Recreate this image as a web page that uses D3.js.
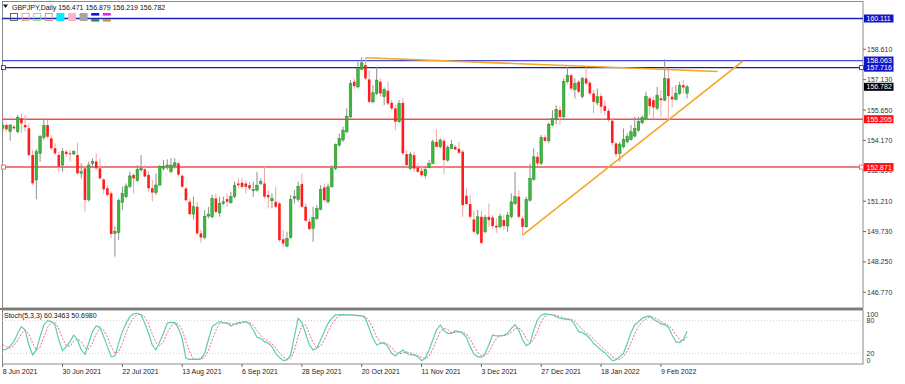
<!DOCTYPE html>
<html>
<head>
<meta charset="utf-8">
<script src="https://cdn.jsdelivr.net/npm/d3@7"></script>
<style>
  body { margin: 0; background: #fff; }
  svg { display: block; font-family: "Liberation Sans", Arial, sans-serif; }
</style>
</head>
<body>
<svg id="chart" width="905" height="384"></svg>
<script>
// GBPJPY daily, one value per trading day starting 8 Jun 2021
const opens = [
  154.76,154.92,154.60,154.84,154.60,155.25,154.92,154.76,153.46,152.24,153.54,154.32,154.92,154.27,153.79,153.46,
  152.97,153.62,153.54,153.51,153.46,152.57,152.81,151.27,153.05,153.14,152.81,152.27,151.84,151.59,149.64,149.68,
  151.14,151.43,151.92,152.49,152.21,152.73,152.76,152.49,151.84,151.63,152.00,152.81,152.89,152.65,152.92,153.05,
  152.45,151.83,151.18,150.58,150.94,149.64,149.44,150.48,150.45,151.34,150.64,151.10,151.31,151.13,151.43,152.07,
  152.11,152.07,151.99,151.72,151.75,152.07,152.07,151.51,151.23,151.18,151.10,149.35,149.02,149.44,151.34,151.29,
  152.04,150.94,150.21,149.88,150.37,150.81,151.88,151.18,151.91,152.80,153.94,154.19,154.59,155.32,157.03,156.78,
  157.63,157.84,157.14,156.05,156.46,157.03,156.30,156.59,156.00,155.73,155.08,156.00,153.50,152.80,153.45,152.85,
  152.69,152.45,152.85,153.05,154.10,153.86,154.15,153.21,153.78,153.86,153.76,153.62,151.48,151.07,150.32,149.64,
  150.45,149.72,150.45,150.42,150.01,149.96,150.29,150.00,150.45,151.10,151.43,150.37,149.96,151.26,152.27,153.37,
  153.05,154.32,154.15,154.92,155.19,155.65,155.32,157.03,157.35,156.65,157.03,156.30,157.19,156.98,156.46,156.00,
  156.33,155.84,155.61,155.13,154.02,153.54,153.86,154.10,154.22,154.38,154.67,155.03,155.24,156.22,156.13,155.73,
  156.22,156.13,157.19,156.30,156.17,156.46,156.86,156.471
];
const highs = [
  155.08,155.00,154.97,154.92,155.41,155.49,155.41,155.00,153.70,153.74,154.43,155.17,155.17,154.43,154.03,153.62,
  153.79,153.70,153.70,153.70,154.06,153.05,152.89,153.14,153.30,153.54,153.30,152.32,152.00,151.67,149.97,151.35,
  151.92,152.08,152.65,152.57,152.97,153.46,152.97,152.65,152.24,152.57,152.97,153.22,153.25,153.30,153.30,153.10,
  152.56,151.91,151.34,151.43,151.18,149.80,150.78,150.94,151.51,151.59,151.43,151.43,151.59,151.67,152.16,152.32,
  152.32,152.24,152.16,152.16,152.64,152.32,152.89,151.75,151.59,151.91,151.18,149.80,149.72,151.51,151.75,152.16,
  152.56,151.10,150.37,150.94,151.02,151.99,152.07,152.07,152.97,154.02,154.51,154.84,155.73,157.11,157.19,158.00,
  158.23,158.20,157.60,156.86,157.76,157.19,156.75,157.03,156.13,155.89,156.13,156.22,153.70,153.62,153.62,153.05,
  152.97,152.89,153.21,154.22,154.70,154.27,154.27,153.94,154.19,153.94,154.10,153.70,151.83,151.51,150.74,150.78,
  150.74,150.53,151.10,150.53,150.37,150.61,150.53,150.69,151.59,152.64,151.75,150.48,151.43,153.05,153.78,153.62,
  154.43,154.43,155.03,155.65,155.89,155.81,157.19,157.76,157.43,157.19,157.11,157.27,157.76,157.08,156.65,156.70,
  156.46,156.13,155.73,155.24,154.10,154.10,154.75,154.51,154.92,155.32,155.32,155.40,156.54,156.30,156.30,156.78,
  156.62,158.12,157.68,156.78,156.86,157.03,157.11,156.879
];
const lows = [
  154.55,154.60,154.16,154.68,154.52,154.52,154.60,153.38,152.00,151.30,153.14,154.19,154.27,153.70,153.46,152.65,
  152.65,153.38,153.14,153.46,152.49,152.32,150.70,151.19,152.81,152.73,152.27,151.59,151.43,149.40,148.51,149.32,
  150.78,151.35,151.84,151.59,152.16,152.65,152.37,151.67,151.19,151.51,151.95,152.70,152.73,152.57,152.80,152.40,
  151.88,151.18,150.53,150.32,149.59,149.18,149.35,150.37,150.37,150.61,150.45,151.02,150.94,151.10,151.34,151.83,
  151.83,151.59,151.75,151.43,151.67,151.99,151.34,150.86,150.86,150.86,149.23,148.99,148.96,149.39,151.10,151.18,
  150.86,150.21,149.80,149.23,150.29,150.78,151.18,151.10,151.88,152.72,153.86,154.10,154.51,155.24,156.70,156.70,
  157.60,157.11,155.97,155.97,156.38,156.30,155.89,155.89,155.65,154.67,155.03,153.45,152.89,152.72,152.64,152.59,
  152.40,152.32,152.80,153.02,153.83,153.78,152.53,153.13,153.73,153.70,153.50,150.45,150.99,150.37,149.64,149.56,
  149.12,149.64,149.96,149.88,149.67,149.88,149.80,149.72,150.37,151.02,150.37,149.56,149.91,151.18,152.20,152.92,
  152.97,154.10,154.05,154.87,154.96,154.92,155.24,156.95,156.62,156.22,156.46,156.22,156.86,156.38,155.48,155.89,
  155.48,155.40,155.08,153.94,153.37,153.13,153.78,154.02,154.15,154.32,154.59,154.96,155.16,155.40,155.24,155.65,
  155.32,156.10,155.16,155.78,156.13,156.38,156.46,156.219
];
const closes = [
  154.92,154.71,154.92,154.76,155.30,155.00,154.81,153.46,152.08,153.62,154.35,154.89,154.35,153.79,153.54,152.89,
  153.62,153.51,153.52,153.62,152.57,152.65,151.27,152.97,153.14,152.81,152.32,151.79,151.51,149.61,149.73,151.24,
  151.59,151.95,152.44,152.32,152.76,152.81,152.41,151.84,151.63,152.00,152.89,152.89,152.97,152.97,153.08,152.50,
  151.91,151.26,150.58,150.94,149.64,149.44,150.48,150.58,151.34,150.69,151.10,151.18,151.18,151.43,151.99,151.99,
  151.91,151.91,151.83,151.78,151.99,152.16,151.43,151.40,151.34,150.94,149.31,149.15,149.39,151.29,151.43,151.94,
  150.94,150.26,149.85,150.42,150.86,151.78,151.26,151.91,152.79,153.97,154.27,154.67,155.35,156.95,156.82,157.68,
  157.95,157.19,156.05,156.49,157.11,156.46,156.65,155.97,155.73,155.08,155.97,153.54,152.97,153.50,152.80,152.64,
  152.48,152.76,153.05,154.10,153.86,154.19,153.21,153.83,153.97,153.73,153.57,151.02,151.07,150.45,149.72,150.45,
  149.18,150.42,150.29,150.00,149.93,150.48,150.00,150.53,151.18,151.43,150.45,149.96,151.29,152.32,153.37,153.05,
  154.32,154.15,154.96,155.24,155.68,155.32,157.03,157.35,156.70,156.95,156.54,157.19,156.95,156.46,156.05,156.30,
  155.81,155.61,155.16,154.05,153.50,153.99,154.22,154.35,154.59,154.75,155.08,155.29,156.30,155.84,155.78,156.38,
  156.13,157.19,156.33,156.17,156.46,156.86,156.75,156.782
];

// Stochastic (5,3,3): %K main line and %D signal line
const stochK = [
  26.2,27.4,33.5,41.5,56.8,69.1,62.9,35.3,17.0,26.2,50.7,72.1,80.1,78.3,72.1,44.5,
  24.9,32.3,41.5,53.7,44.5,26.2,18.2,38.4,59.9,70.3,67.8,50.7,32.3,13.9,15.1,38.4,
  59.9,75.2,87.5,92.4,93.6,90.5,75.2,56.8,35.3,26.2,41.5,56.8,75.2,77.0,76.4,66.0,
  47.6,10.8,9.0,9.0,9.0,10.2,20.0,44.5,69.1,74.0,78.3,76.4,75.2,70.3,74.0,76.4,
  77.6,78.3,74.0,62.9,49.4,47.6,41.5,38.4,32.3,20.0,12.7,6.5,7.8,17.0,50.7,84.4,
  76.4,56.8,35.3,26.2,29.2,44.5,59.9,75.2,84.4,90.5,90.5,91.1,90.5,90.5,89.9,89.3,
  88.7,84.4,66.0,47.6,35.3,38.4,39.6,32.3,20.0,15.1,21.2,26.2,20.0,17.0,17.0,13.9,
  6.5,10.8,26.2,44.5,62.9,72.1,61.7,56.8,56.8,61.1,59.9,56.8,49.4,32.3,18.8,13.9,
  12.7,20.0,35.3,53.7,51.9,51.9,53.1,56.8,66.0,72.7,62.9,44.5,34.1,38.4,62.9,81.3,
  90.5,92.4,91.7,90.5,87.5,84.4,83.2,82.5,81.3,72.1,59.9,58.0,53.7,47.6,38.4,32.3,
  26.2,21.2,13.9,6.5,7.8,13.9,20.0,38.4,58.0,72.1,78.3,84.4,87.5,88.7,82.5,78.3,
  74.0,72.7,67.8,53.7,41.5,39.6,45.8,60.3463
];
const stochD = [
  36.0,32.0,29.0,34.1,43.9,55.8,62.9,55.8,38.4,26.2,31.3,49.7,67.6,76.8,76.8,65.0,
  47.2,33.9,32.9,42.5,46.6,41.5,29.6,27.6,38.8,56.2,66.0,62.9,50.3,32.3,20.4,22.5,
  37.8,57.8,74.2,85.0,91.2,92.2,86.4,74.2,55.8,39.4,34.3,41.5,57.8,69.7,76.2,73.1,
  63.3,41.5,22.5,9.6,9.0,9.4,13.1,24.9,44.5,62.5,73.8,76.2,76.6,74.0,73.2,73.6,
  76.0,77.4,76.6,71.7,62.1,53.3,46.2,42.5,37.4,30.2,21.7,13.1,9.0,10.4,25.2,50.7,
  70.5,72.5,56.2,39.4,30.2,33.3,44.5,59.9,73.2,83.4,88.5,90.7,90.7,90.7,90.3,89.9,
  89.3,87.5,79.7,66.0,49.6,40.4,37.8,36.8,30.6,22.5,18.8,20.8,22.5,21.1,18.0,16.0,
  12.5,10.4,14.5,27.2,44.5,59.8,65.6,63.5,58.4,58.2,59.3,59.3,55.4,46.2,33.5,21.7,
  15.1,15.5,22.7,36.3,47.0,52.5,52.3,53.9,58.6,65.2,67.2,60.0,47.2,39.0,45.1,60.9,
  78.2,88.1,91.5,91.5,89.9,87.5,85.0,83.4,82.3,78.6,71.1,63.3,57.2,53.1,46.6,39.4,
  32.3,26.6,20.4,13.9,9.4,9.4,13.9,24.1,38.8,56.2,69.5,78.3,83.4,86.9,86.2,83.2,
  78.3,75.0,71.5,64.7,54.3,44.9,42.3,50.6980
];

const dateLabels = ["8 Jun 2021","30 Jun 2021","22 Jul 2021","13 Aug 2021","6 Sep 2021","28 Sep 2021",
  "20 Oct 2021","11 Nov 2021","3 Dec 2021","27 Dec 2021","18 Jan 2022","9 Feb 2022"];
const dateLabelStep = 16; // bars between date labels
const priceTicks = [158.610,157.130,155.650,154.170,152.690,151.210,149.730,148.250,146.770];
const stochLevels = [80, 20];
const stochLabels = [100, 80, 20, 0];

const blueLevels = [160.111, 158.063, 157.716];
const redLevels = [155.205, 152.871];
const lastPrice = 156.782;
// trend lines as [bar index, price] pairs
const trendLines = [
  [[97, 158.20], [191.2, 157.53]],
  [[139, 149.56], [198.0, 158.05]]
];

const svg = d3.select("#chart");
const left = 2, right = 863, mainTop = 1.5, mainBottom = 308, stochTop = 310, stochBottom = 364;

const x = d3.scaleLinear().domain([0, 176]).range([2.7, 660.9]);
const y = d3.scaleLinear().domain([146.77, 158.61]).range([292.3, 49.3]);
const ys = d3.scaleLinear().domain([0, 100]).range([364.2, 309.8]);

const defs = svg.append("defs");
defs.append("clipPath").attr("id", "clipMain").append("rect")
  .attr("x", left).attr("y", mainTop).attr("width", right - left).attr("height", mainBottom - mainTop);
defs.append("clipPath").attr("id", "clipStoch").append("rect")
  .attr("x", left).attr("y", stochTop).attr("width", right - left).attr("height", stochBottom - stochTop);

// frames
svg.append("rect").attr("x", left + 0.5).attr("y", mainTop).attr("width", right - left - 0.5)
  .attr("height", mainBottom - mainTop).attr("fill", "none").attr("stroke", "#8a8a8a");
svg.append("line").attr("x1", 0).attr("x2", right).attr("y1", 309).attr("y2", 309)
  .attr("stroke", "#777").attr("stroke-width", 2);
svg.append("rect").attr("x", left + 0.5).attr("y", stochTop).attr("width", right - left - 0.5)
  .attr("height", stochBottom - stochTop).attr("fill", "none").attr("stroke", "#8a8a8a");

const main = svg.append("g").attr("clip-path", "url(#clipMain)");

// horizontal levels
const blueColors = ["#2323b5", "#4a4ad6", "#1c1ca8"];
main.selectAll(".blue").data(blueLevels).enter().append("line")
  .attr("x1", left).attr("x2", right)
  .attr("y1", d => y(d)).attr("y2", d => y(d))
  .attr("stroke", (d, i) => blueColors[i]).attr("stroke-width", 1.3);
main.selectAll(".red").data(redLevels).enter().append("line")
  .attr("x1", left).attr("x2", right)
  .attr("y1", d => y(d)).attr("y2", d => y(d))
  .attr("stroke", "#ee5050").attr("stroke-width", 1.5);

// candles
const bars = d3.range(closes.length);
const candle = main.selectAll(".candle").data(bars).enter().append("g");
candle.append("line")
  .attr("x1", i => x(i)).attr("x2", i => x(i))
  .attr("y1", i => y(highs[i])).attr("y2", i => y(lows[i]))
  .attr("stroke", i => closes[i] >= opens[i] ? "#8f8f8f" : "#f3a3a3")
  .attr("stroke-width", 1);
candle.append("rect")
  .attr("x", i => x(i) - 1.3).attr("width", 2.6)
  .attr("y", i => y(Math.max(opens[i], closes[i])))
  .attr("height", i => Math.max(1, Math.abs(y(opens[i]) - y(closes[i]))))
  .attr("fill", i => closes[i] >= opens[i] ? "#3cb83c" : "#ff1c1c")
  .attr("stroke", i => closes[i] >= opens[i] ? "#2a8a2a" : "none")
  .attr("stroke-width", 0.5);

// trend lines
main.selectAll(".trend").data(trendLines).enter().append("line")
  .attr("x1", d => x(d[0][0])).attr("y1", d => y(d[0][1]))
  .attr("x2", d => x(d[1][0])).attr("y2", d => y(d[1][1]))
  .attr("stroke", "#f5a623").attr("stroke-width", 1.6);

// line anchors at the edges
[[blueLevels[2], "#1c1ca8"], [redLevels[1], "#ee5050"]].forEach(([p, c]) => {
  svg.append("rect").attr("x", 1.5).attr("y", y(p) - 2).attr("width", 4).attr("height", 4)
    .attr("fill", "#fff").attr("stroke", c).attr("stroke-width", 0.8);
  svg.append("rect").attr("x", 859.5).attr("y", y(p) - 2).attr("width", 4).attr("height", 4)
    .attr("fill", "#fff").attr("stroke", c).attr("stroke-width", 0.8);
});

// header
svg.append("path").attr("d", "M3,4.5 L8,4.5 L5.5,8 Z").attr("fill", "#111");
svg.append("text").attr("x", 12).attr("y", 9.5).attr("font-size", 7).attr("fill", "#111")
  .text("GBPJPY,Daily 156.471 156.879 156.219 156.782");
const toolBoxes = [
  {stroke: "#555"}, {stroke: "#f0a060"}, {stroke: "#80de80"}, {stroke: "#d08a8a"},
  {fill: "#00ecff"}, {fill: "#f8b6c8"}, {fill: "#a4a4a4"},
  {top: "#1212e0", bottom: "#2a8a68"}, {top: "#f020e0", bottom: "#c4962a"}
];
toolBoxes.forEach((b, i) => {
  const bx = 10 + i * 11.6;
  if (b.top) {
    svg.append("rect").attr("x", bx).attr("y", 13).attr("width", 8).attr("height", 2.6).attr("fill", b.top);
    svg.append("rect").attr("x", bx).attr("y", 19).attr("width", 8).attr("height", 2.6).attr("fill", b.bottom);
  } else if (b.fill) {
    svg.append("rect").attr("x", bx).attr("y", 13).attr("width", 8).attr("height", 8).attr("fill", b.fill);
  } else {
    svg.append("rect").attr("x", bx + 0.5).attr("y", 13.5).attr("width", 7).attr("height", 7)
      .attr("fill", "none").attr("stroke", b.stroke).attr("stroke-width", 0.9);
  }
});

// price axis (152.690 sits under the red level label, as in MT4)
const pAxis = svg.append("g");
pAxis.selectAll("line").data(priceTicks).enter().append("line")
  .attr("x1", right).attr("x2", right + 3).attr("y1", d => y(d)).attr("y2", d => y(d))
  .attr("stroke", "#666");
pAxis.selectAll("text").data(priceTicks).enter().append("text")
  .attr("x", 867).attr("y", d => y(d)).attr("dy", "0.35em")
  .attr("font-size", 7).attr("fill", "#333").text(d => d3.format(".3f")(d));

function priceLabel(p, bg) {
  svg.append("rect").attr("x", 864).attr("y", y(p) - 4).attr("width", 29.5).attr("height", 8).attr("fill", bg);
  svg.append("text").attr("x", 866.5).attr("y", y(p)).attr("dy", "0.35em")
    .attr("font-size", 7).attr("fill", "#fff").text(d3.format(".3f")(p));
}
blueLevels.forEach(p => priceLabel(p, "#1414c8"));
redLevels.forEach(p => priceLabel(p, "#ff1010"));
priceLabel(lastPrice, "#000");

// stochastic panel
const st = svg.append("g").attr("clip-path", "url(#clipStoch)");
st.selectAll(".lvl").data(stochLevels).enter().append("line")
  .attr("x1", left).attr("x2", right).attr("y1", d => ys(d)).attr("y2", d => ys(d))
  .attr("stroke", "#c4c4c4").attr("stroke-dasharray", "1,2").attr("stroke-width", 0.8);
const kLine = d3.line().x((d, i) => x(i)).y(d => ys(d));
st.append("path").attr("d", kLine(stochD)).attr("fill", "none")
  .attr("stroke", "#f46a6a").attr("stroke-width", 1).attr("stroke-dasharray", "2,1.5");
st.append("path").attr("d", kLine(stochK)).attr("fill", "none")
  .attr("stroke", "#5ccdb2").attr("stroke-width", 1.2);
svg.append("text").attr("x", 4).attr("y", 318).attr("font-size", 7).attr("fill", "#111")
  .text("Stoch(5,3,3) " + d3.format(".4f")(stochK[stochK.length - 1]) + " " + d3.format(".4f")(stochD[stochD.length - 1]));
const sLabelY = {100: 314.3, 80: ys(80), 20: ys(20), 0: 360.3};
svg.selectAll(".slab").data(stochLabels).enter().append("text")
  .attr("x", 866.5).attr("y", d => sLabelY[d]).attr("dy", "0.35em")
  .attr("font-size", 7).attr("fill", "#333").text(d => d);

// date axis
const dAxis = svg.append("g");
dAxis.selectAll("line").data(dateLabels).enter().append("line")
  .attr("x1", (d, i) => x(i * dateLabelStep)).attr("x2", (d, i) => x(i * dateLabelStep))
  .attr("y1", stochBottom).attr("y2", stochBottom + 3).attr("stroke", "#666");
dAxis.selectAll("text").data(dateLabels).enter().append("text")
  .attr("x", (d, i) => x(i * dateLabelStep)).attr("y", 373.5)
  .attr("font-size", 7).attr("fill", "#222").text(d => d);
</script>
</body>
</html>
